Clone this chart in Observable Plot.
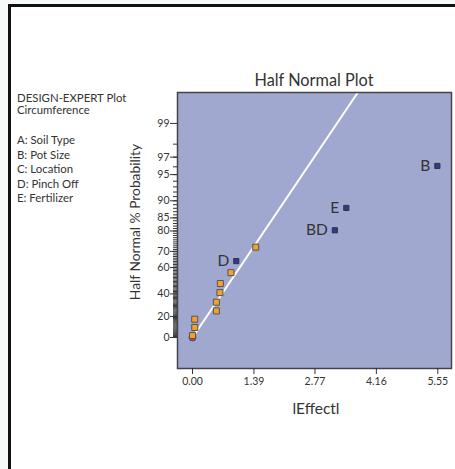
<!DOCTYPE html>
<html>
<head>
<meta charset="utf-8">
<script src="https://cdn.jsdelivr.net/npm/d3@7"></script>
<script src="https://cdn.jsdelivr.net/npm/@observablehq/plot@0.6"></script>
<style>
  body { margin: 0; background: #f6fbf9; font-family: Lato, "Noto Sans", sans-serif; color: #333; }
  #wrap { position: relative; width: 455px; height: 469px; overflow: hidden; }
  #frame { position: absolute; left: 8px; top: 4px; width: 520px; height: 520px;
           border-left: 3px solid #111; border-top: 3px solid #111; background: #fff; }
  #chart { position: absolute; left: 0; top: 0; }
  .ov { position: absolute; white-space: nowrap; color: #333; }
  #title { left: 177px; width: 274px; top: 71px; text-align: center; font-size: 16.3px; line-height: 18px; }
  #ylab { left: 135px; top: 222px; font-size: 13.8px; line-height: 16px; transform: translate(-50%, -50%) rotate(-90deg); }
  #xlab { left: 316px; top: 408px; font-size: 15.5px; line-height: 16px; transform: translate(-50%, -50%); }
  #notes { left: 17px; top: 92px; font-size: 11.4px; line-height: 12px; }
  #notes .list div { line-height: 14.5px; }
</style>
</head>
<body>
<div id="wrap">
  <div id="frame"></div>
  <div id="chart"></div>
  <div class="ov" id="title"></div>
  <div class="ov" id="ylab"></div>
  <div class="ov" id="xlab"></div>
  <div class="ov" id="notes"></div>
</div>
<script>
// ---- data ----
const noteHeader = ["DESIGN-EXPERT Plot", "Circumference"];
const factorNames = ["A: Soil Type", "B: Pot Size", "C: Location", "D: Pinch Off", "E: Fertilizer"];
const chartTitle = "Half Normal Plot";
const xTitle = "lEffectl";
const yTitle = "Half Normal % Probability";

const pointEffect = [0, 0, 0.05, 0.05, 0.54, 0.54, 0.62, 0.63, 0.87, 1.43, 0.99, 3.22, 3.48, 5.54];
const pointProb   = [0, 1.9, 9.6, 17.4, 25.1, 32.9, 41.1, 48.4, 56.5, 72.3, 64.2, 80.3, 88.1, 96.1];
const pointKind   = ["error0", "error", "error", "error", "error", "error", "error", "error", "error", "error",
                     "effect", "effect", "effect", "effect"];
const pointLabel  = ["", "", "", "", "", "", "", "", "", "", "D", "BD", "E", "B"];

const fitEffect = [0, 3.74];
const fitProb   = [0, 99.68];

const xTickValues = [0, 1.39, 2.77, 4.16, 5.55];
const xTickLabels = ["0.00", "1.39", "2.77", "4.16", "5.55"];
const yTickLabels = [0, 20, 40, 60, 70, 80, 85, 90, 95, 97, 99];

// ---- half-normal probability transform ----
function qnorm(p) {
  const a = [-3.969683028665376e+01, 2.209460984245205e+02, -2.759285104469687e+02, 1.383577518672690e+02, -3.066479806614716e+01, 2.506628277459239e+00];
  const b = [-5.447609879822406e+01, 1.615858368580409e+02, -1.556989798598866e+02, 6.680131188771972e+01, -1.328068155288572e+01];
  const c = [-7.784894002430293e-03, -3.223964580411365e-01, -2.400758277161838e+00, -2.549732539343734e+00, 4.374664141464968e+00, 2.938163982698783e+00];
  const d = [7.784695709041462e-03, 3.224671290700398e-01, 2.445134137142996e+00, 3.754408661907416e+00];
  const pl = 0.02425, ph = 1 - pl;
  let q, r;
  if (p < pl) {
    q = Math.sqrt(-2 * Math.log(p));
    return (((((c[0]*q+c[1])*q+c[2])*q+c[3])*q+c[4])*q+c[5]) / ((((d[0]*q+d[1])*q+d[2])*q+d[3])*q+1);
  }
  if (p <= ph) {
    q = p - 0.5; r = q * q;
    return (((((a[0]*r+a[1])*r+a[2])*r+a[3])*r+a[4])*r+a[5])*q / (((((b[0]*r+b[1])*r+b[2])*r+b[3])*r+b[4])*r+1);
  }
  q = Math.sqrt(-2 * Math.log(1 - p));
  return -(((((c[0]*q+c[1])*q+c[2])*q+c[3])*q+c[4])*q+c[5]) / ((((d[0]*q+d[1])*q+d[2])*q+d[3])*q+1);
}
const hnz = pct => qnorm(0.5 + pct / 200);

// ---- build tables ----
const points = pointEffect.map((x, i) => ({x, z: hnz(pointProb[i]), kind: pointKind[i], label: pointLabel[i]}));
const fit = fitEffect.map((x, i) => ({x, z: hnz(fitProb[i])}));
const yTickZ = yTickLabels.map(hnz);
const yMinorZ = d3.range(1, 99).map(hnz);

const plot = Plot.plot({
  width: 455,
  height: 469,
  marginLeft: 177,
  marginRight: 4,
  marginTop: 92,
  marginBottom: 101,
  style: {background: "transparent", fontFamily: "Lato, 'Noto Sans', sans-serif", fontSize: "10px", color: "#333"},
  x: {domain: [-0.34, 5.86], label: null},
  y: {domain: [-0.373, 2.948], label: null},
  marks: [
    Plot.frame({fill: "#a1a8cf"}),
    Plot.line(fit, {x: "x", y: "z", stroke: "white", strokeWidth: 2, clip: true}),
    Plot.dot(points.filter(d => d.kind === "error0"), {x: "x", y: "z", r: 3.5, fill: "#e0304a", stroke: "#555", strokeWidth: 1}),
    Plot.dot(points.filter(d => d.kind === "error"), {x: "x", y: "z", symbol: "square", r: 3.4, fill: "#f4a02c", stroke: "#555", strokeWidth: 1}),
    Plot.dot(points.filter(d => d.kind === "effect"), {x: "x", y: "z", symbol: "square", r: 2.9, fill: "#2a3a9e", stroke: "#333", strokeWidth: 1}),
    Plot.text(points.filter(d => d.label), {x: "x", y: "z", text: "label", textAnchor: "end", dx: -7, fontSize: 15.5, fill: "#333"}),
    Plot.frame({stroke: "#444", strokeWidth: 1.5}),
    Plot.axisX(xTickValues, {tickFormat: d => xTickLabels[xTickValues.indexOf(d)], tickSize: 6, tickPadding: 3, fontSize: 10.5, label: null}),
    Plot.axisY(yMinorZ, {tickFormat: () => "", tickSize: 4, label: null}),
    Plot.axisY(yTickZ, {tickFormat: d => String(yTickLabels[yTickZ.indexOf(d)]), tickSize: 7, tickPadding: 1, fontSize: 10.5, label: null})
  ]
});
document.getElementById("chart").appendChild(plot);

document.getElementById("title").textContent = chartTitle;
document.getElementById("ylab").textContent = yTitle;
document.getElementById("xlab").textContent = xTitle;
const notes = document.getElementById("notes");
noteHeader.forEach(t => { const e = document.createElement("div"); e.textContent = t; notes.appendChild(e); });
const gap = document.createElement("div"); gap.style.height = "17px"; notes.appendChild(gap);
const list = document.createElement("div"); list.className = "list"; notes.appendChild(list);
factorNames.forEach(t => { const e = document.createElement("div"); e.textContent = t; list.appendChild(e); });
</script>
</body>
</html>
